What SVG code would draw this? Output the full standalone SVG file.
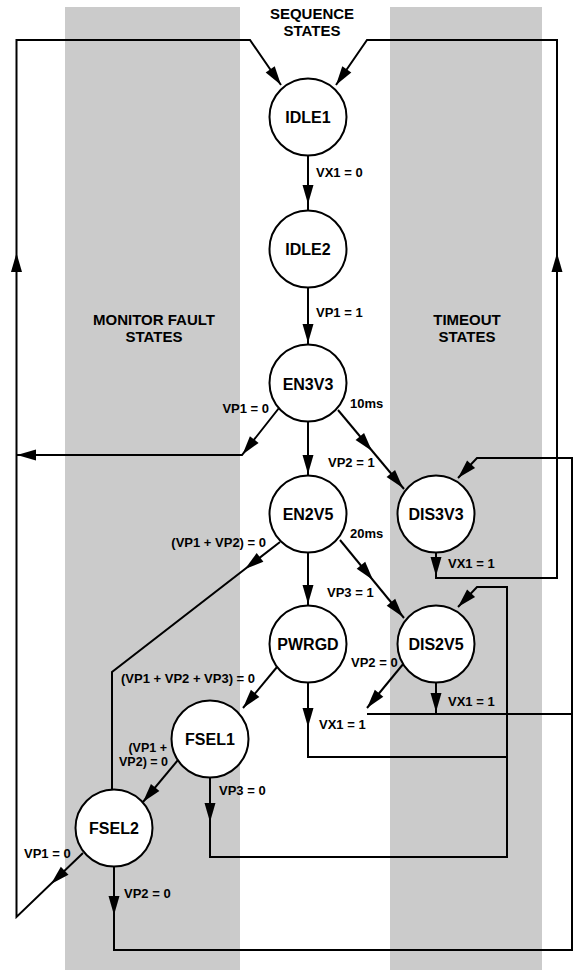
<svg xmlns="http://www.w3.org/2000/svg" xmlns:xlink="http://www.w3.org/1999/xlink" width="575" height="970" viewBox="0 0 575 970">
<style>
  .band { fill: #cbcbcb; }
  .node circle { fill: #ffffff; stroke: #000; stroke-width: 2; }
  .nt { font-family: "Liberation Sans", Arial, Helvetica, sans-serif; font-weight: bold; font-size: 16px; text-anchor: middle; fill: #000; }
  .ttl { font-family: "Liberation Sans", Arial, Helvetica, sans-serif; font-weight: bold; font-size: 15px; text-anchor: middle; fill: #000; }
  .lbl { font-family: "Liberation Sans", Arial, Helvetica, sans-serif; font-weight: bold; font-size: 13px; fill: #000; }
  .sm { font-size: 12.5px; }
  .end { text-anchor: end; }
  .wire { fill: none; stroke: #000; stroke-width: 2; stroke-linejoin: miter; }
  .ah { fill: #000; stroke: none; }
</style>
<defs>
  <path id="ah" class="ah" d="M0,0 L-19,-5.5 L-19,5.5 Z"/>
</defs>

<g id="bands">
  <rect class="band" x="65" y="7" width="175" height="963"/>
  <rect class="band" x="390" y="7" width="152" height="963"/>
</g>

<g id="titles">
  <text class="ttl" x="312" y="19">SEQUENCE</text>
  <text class="ttl" x="312" y="35.5">STATES</text>
  <text class="ttl" x="154" y="325">MONITOR FAULT</text>
  <text class="ttl" x="154" y="342">STATES</text>
  <text class="ttl" x="467" y="325">TIMEOUT</text>
  <text class="ttl" x="467" y="342">STATES</text>
</g>

<g id="connectors">
  <!-- IDLE1 -> IDLE2 -->
  <path class="wire" d="M308,155.5 V210.5"/>
  <use xlink:href="#ah" transform="translate(308,204) rotate(90)"/>
  <!-- IDLE2 -> EN3V3 -->
  <path class="wire" d="M308,287.5 V344.5"/>
  <use xlink:href="#ah" transform="translate(308,343) rotate(90)"/>
  <!-- EN3V3 -> EN2V5 -->
  <path class="wire" d="M308,421.5 V475.5"/>
  <use xlink:href="#ah" transform="translate(308,474) rotate(90)"/>
  <!-- EN2V5 -> PWRGD -->
  <path class="wire" d="M308,552.5 V605.5"/>
  <use xlink:href="#ah" transform="translate(308,604) rotate(90)"/>
  <!-- EN3V3 -> DIS3V3 -->
  <path class="wire" d="M338,410 L404,489"/>
  <use xlink:href="#ah" transform="translate(372,451) rotate(50.1)"/>
  <use xlink:href="#ah" transform="translate(403,488) rotate(50.1)"/>
  <!-- EN2V5 -> DIS2V5 -->
  <path class="wire" d="M340,540 L404,618"/>
  <use xlink:href="#ah" transform="translate(373,580) rotate(50.6)"/>
  <use xlink:href="#ah" transform="translate(403,617) rotate(50.6)"/>
  <!-- EN3V3 VP1=0 -> left loop -->
  <path class="wire" d="M279,408 L242,455 H17"/>
  <use xlink:href="#ah" transform="translate(242.5,454.5) rotate(128.2)"/>
  <use xlink:href="#ah" transform="translate(17,455) rotate(180)"/>
  <!-- EN2V5 -> FSEL2 -->
  <path class="wire" d="M280,542 L112,672 V790"/>
  <use xlink:href="#ah" transform="translate(245,569) rotate(142.3)"/>
  <!-- PWRGD -> FSEL1 -->
  <path class="wire" d="M277,667 L243,708"/>
  <use xlink:href="#ah" transform="translate(243,708) rotate(129.7)"/>
  <!-- FSEL1 -> FSEL2 -->
  <path class="wire" d="M178,760 L143,802"/>
  <use xlink:href="#ah" transform="translate(143,802) rotate(129.8)"/>
  <!-- FSEL2 VP1=0 -> left loop -> IDLE1 -->
  <path class="wire" d="M83,853 L16.5,917 V40 H250 L281,85"/>
  <use xlink:href="#ah" transform="translate(51,884) rotate(136)"/>
  <use xlink:href="#ah" transform="translate(16.5,253) rotate(-90)"/>
  <use xlink:href="#ah" transform="translate(281,85) rotate(55.4)"/>
  <!-- FSEL2 VP2=0 -> bottom loop -> DIS3V3 -->
  <path class="wire" d="M114,866.5 V950 H572 V458 H477 L458,478"/>
  <use xlink:href="#ah" transform="translate(114,915) rotate(90)"/>
  <use xlink:href="#ah" transform="translate(458,478) rotate(133.5)"/>
  <!-- DIS2V5 VX1=1 / VP2=0 -> right loop -->
  <path class="wire" d="M436,682.5 V714"/>
  <use xlink:href="#ah" transform="translate(436,712) rotate(90)"/>
  <path class="wire" d="M404,663 L367,708"/>
  <use xlink:href="#ah" transform="translate(367,708) rotate(129.4)"/>
  <path class="wire" d="M367,714 H572"/>
  <!-- DIS3V3 VX1=1 -> right loop -> IDLE1 -->
  <path class="wire" d="M436,552.5 V578 H557 V40 H367 L336,85"/>
  <use xlink:href="#ah" transform="translate(436,576) rotate(90)"/>
  <use xlink:href="#ah" transform="translate(557,253) rotate(-90)"/>
  <use xlink:href="#ah" transform="translate(336,85) rotate(124.6)"/>
  <!-- PWRGD VX1=1 -->
  <path class="wire" d="M308,682.5 V757 H507"/>
  <use xlink:href="#ah" transform="translate(308,727) rotate(90)"/>
  <!-- FSEL1 VP3=0 -> DIS2V5 -->
  <path class="wire" d="M210,777.5 V857 H507 V587 H477 L458,607"/>
  <use xlink:href="#ah" transform="translate(210,822) rotate(90)"/>
  <use xlink:href="#ah" transform="translate(458,607) rotate(133.5)"/>
</g>

<g id="labels">
  <text class="lbl" x="316" y="177">VX1 = 0</text>
  <text class="lbl" x="316" y="317">VP1 = 1</text>
  <text class="lbl end" x="269" y="413">VP1 = 0</text>
  <text class="lbl" x="350" y="408">10ms</text>
  <text class="lbl" x="328" y="467">VP2 = 1</text>
  <text class="lbl end" x="266" y="547">(VP1 + VP2) = 0</text>
  <text class="lbl" x="350" y="538">20ms</text>
  <text class="lbl" x="448" y="568">VX1 = 1</text>
  <text class="lbl" x="327" y="597">VP3 = 1</text>
  <text class="lbl" x="351" y="667">VP2 = 0</text>
  <text class="lbl" x="121" y="683">(VP1 + VP2 + VP3) = 0</text>
  <text class="lbl" x="448" y="706">VX1 = 1</text>
  <text class="lbl" x="319" y="729">VX1 = 1</text>
  <text class="lbl sm end" x="167" y="751.5">(VP1 +</text>
  <text class="lbl sm end" x="168" y="765.5">VP2) = 0</text>
  <text class="lbl" x="219" y="795">VP3 = 0</text>
  <text class="lbl" x="24" y="858">VP1 = 0</text>
  <text class="lbl" x="124" y="898">VP2 = 0</text>
</g>

<g id="IDLE1" class="node"><circle cx="308" cy="117" r="38.5"/><text class="nt" x="308" y="123">IDLE1</text></g>
<g id="IDLE2" class="node"><circle cx="308" cy="249" r="38.5"/><text class="nt" x="308" y="255">IDLE2</text></g>
<g id="EN3V3" class="node"><circle cx="308" cy="383" r="38.5"/><text class="nt" x="308" y="390">EN3V3</text></g>
<g id="EN2V5" class="node"><circle cx="308" cy="514" r="38.5"/><text class="nt" x="308" y="520">EN2V5</text></g>
<g id="PWRGD" class="node"><circle cx="308" cy="644" r="38.5"/><text class="nt" x="308" y="650">PWRGD</text></g>
<g id="DIS3V3" class="node"><circle cx="436" cy="514" r="38.5"/><text class="nt" x="436" y="520">DIS3V3</text></g>
<g id="DIS2V5" class="node"><circle cx="436" cy="644" r="38.5"/><text class="nt" x="436" y="650">DIS2V5</text></g>
<g id="FSEL1" class="node"><circle cx="210" cy="739" r="38.5"/><text class="nt" x="210" y="745">FSEL1</text></g>
<g id="FSEL2" class="node"><circle cx="114" cy="828" r="38.5"/><text class="nt" x="114" y="834">FSEL2</text></g>
</svg>
